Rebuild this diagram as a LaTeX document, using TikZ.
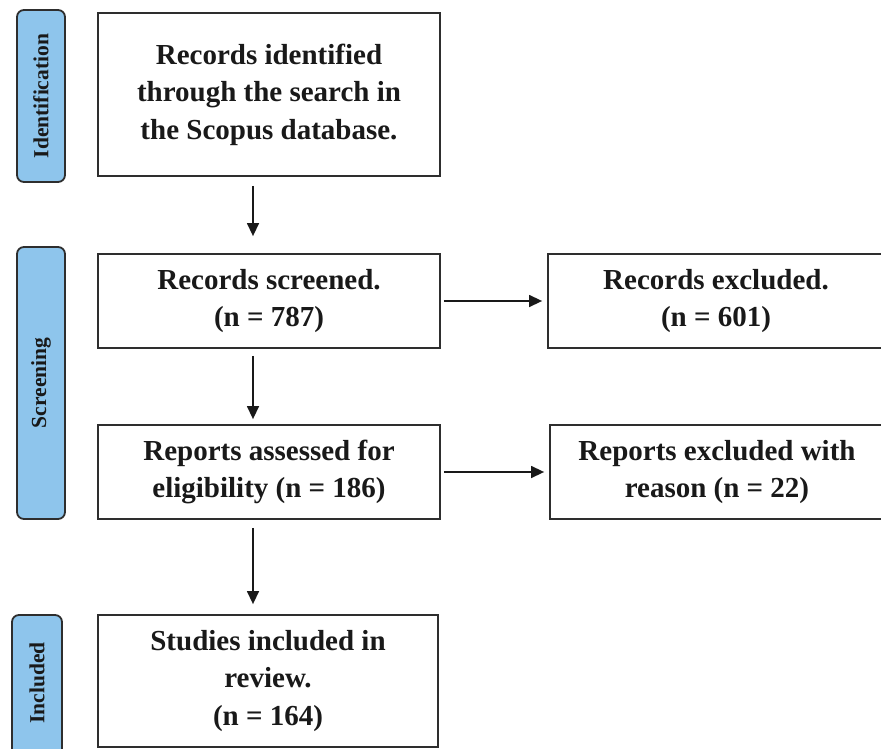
\documentclass[tikz,border=0pt]{standalone}
\usepackage{fontspec}
\setmainfont{Liberation Serif}
\usetikzlibrary{arrows.meta}
\definecolor{barblue}{HTML}{8EC5EC}
\definecolor{edge}{HTML}{2E2E2E}
\tikzset{
  stagebox/.style={draw=edge, line width=1.8pt, fill=white, inner sep=2pt,
    align=center, font=\fontsize{29}{37.5}\selectfont\bfseries, text=black!90},
  sidebar/.style={draw=edge, line width=1.8pt, fill=barblue, rounded corners=7pt,
    rotate=90, inner sep=0pt, font=\fontsize{21.5}{22}\selectfont\bfseries, text=black!90},
  flow/.style={draw=black!90, line width=1.4pt, -{Triangle[length=13pt,width=12pt]}}
}
\begin{document}
\begin{tikzpicture}[x=1pt,y=-1pt]
\useasboundingbox (0,0) rectangle (881,749);
% side bars
\node[sidebar, minimum width=172pt, minimum height=48pt] (idbar) at (41,96) {Identification};
\node[sidebar, minimum width=272pt, minimum height=48pt] (scbar) at (41,383) {Screening};
\node[sidebar, minimum width=170pt, minimum height=50pt] (inbar) at (37,700) {};
\node[rotate=90, font=\fontsize{21.5}{22}\selectfont\bfseries, text=black!90] (intext) at (37,683) {Included};
% boxes
\node[stagebox, minimum width=342pt, minimum height=163pt] (b1) at (269,94.5)
  {Records identified\\through the search in\\the Scopus database.};
\node[stagebox, minimum width=342pt, minimum height=94pt] (b2) at (269,301)
  {Records screened.\\(n = 787)};
\node[stagebox, minimum width=336pt, minimum height=94pt] (b3) at (716,301)
  {Records excluded.\\(n = 601)};
\node[stagebox, minimum width=342pt, minimum height=94pt] (b4) at (269,472)
  {Reports assessed for\\eligibility (n = 186)};
\node[stagebox, minimum width=334pt, minimum height=94pt] (b5) at (717,472)
  {Reports excluded with\\reason (n = 22)};
\node[stagebox, minimum width=340pt, minimum height=132pt] (b6) at (268,681)
  {Studies included in\\review.\\(n = 164)};
% connectors
\draw[flow, shorten <=9pt, shorten >=17pt] ([xshift=-16pt]b1.south) -- ([xshift=-16pt]b1.south |- b2.north);
\draw[flow, shorten <=7pt, shorten >=5pt] ([xshift=-16pt]b2.south) -- ([xshift=-16pt]b2.south |- b4.north);
\draw[flow, shorten <=8pt, shorten >=10pt] ([xshift=-16pt]b4.south) -- ([xshift=-16pt]b4.south |- b6.north);
\draw[flow, shorten <=3pt, shorten >=5pt] (b2.east) -- (b3.west);
\draw[flow, shorten <=3pt, shorten >=5pt] (b4.east) -- (b5.west);
\end{tikzpicture}
\end{document}
